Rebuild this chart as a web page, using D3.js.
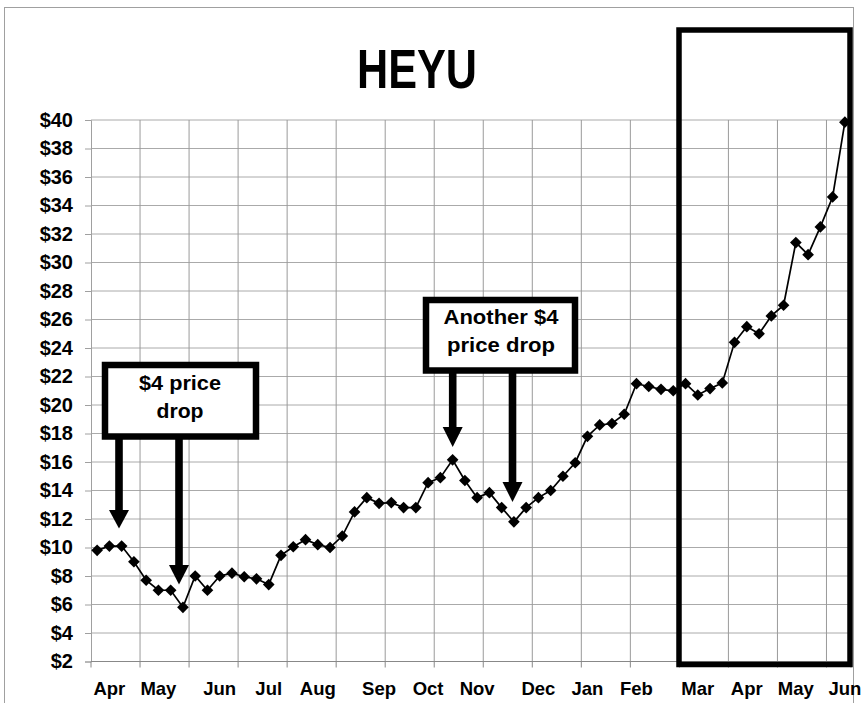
<!DOCTYPE html>
<html>
<head>
<meta charset="utf-8">
<script src="https://cdn.jsdelivr.net/npm/d3@7"></script>
<style>
  html, body { margin: 0; padding: 0; background: #fff; }
  svg { display: block; }
  text { font-family: "Liberation Sans", Arial, sans-serif; font-weight: bold; fill: #000; }
</style>
</head>
<body>
<svg id="chart" width="862" height="703"></svg>
<script>
// ---- data ----
const title = "HEYU";
const weekLabels = [
  "", "Apr", "", "", "", "May", "", "", "", "",
  "Jun", "", "", "", "Jul", "", "", "", "Aug", "",
  "", "", "", "Sep", "", "", "", "Oct", "", "",
  "", "Nov", "", "", "", "", "Dec", "", "", "",
  "Jan", "", "", "", "Feb", "", "", "", "", "Mar",
  "", "", "", "Apr", "", "", "", "May", "", "",
  "", "Jun"
];
const prices = [
  9.8, 10.1, 10.1, 9.0, 7.7, 7.0, 7.0, 5.8, 8.0, 7.0,
  8.0, 8.2, 7.95, 7.8, 7.4, 9.45, 10.05, 10.55, 10.2, 10.0,
  10.8, 12.5, 13.5, 13.1, 13.15, 12.8, 12.8, 14.55, 14.9, 16.15,
  14.7, 13.5, 13.85, 12.8, 11.8, 12.8, 13.5, 14.0, 15.0, 15.95,
  17.8, 18.6, 18.7, 19.35, 21.5, 21.3, 21.1, 21.0, 21.5, 20.7,
  21.15, 21.55, 24.4, 25.5, 25.0, 26.25, 27.0, 31.4, 30.55, 32.5,
  34.6, 39.85
];
const yTicks = [2, 4, 6, 8, 10, 12, 14, 16, 18, 20, 22, 24, 26, 28, 30, 32, 34, 36, 38, 40];
const note1Lines = ["$4 price", "drop"];
const note2Lines = ["Another $4", "price drop"];

// ---- layout ----
const svg = d3.select("#chart");
const plot = { left: 91, right: 851, top: 120, bottom: 661.5 };

const x = d3.scaleBand()
  .domain(d3.range(weekLabels.length))
  .range([plot.left, plot.right])
  .padding(0);
const y = d3.scaleLinear()
  .domain([d3.min(yTicks), d3.max(yTicks)])
  .range([plot.bottom, plot.top]);

// outer chart border
svg.append("rect")
  .attr("x", 4.5).attr("y", 7.5)
  .attr("width", 849).attr("height", 720)
  .attr("fill", "none").attr("stroke", "#a0a0a0").attr("stroke-width", 1);

// horizontal gridlines
svg.append("g")
  .selectAll("line")
  .data(yTicks.slice(1))
  .join("line")
  .attr("x1", plot.left).attr("x2", plot.right)
  .attr("y1", d => y(d)).attr("y2", d => y(d))
  .attr("stroke", "#aaaaaa").attr("stroke-width", 1);

// vertical gridlines every 4 weeks
const vIdx = d3.range(0, weekLabels.length + 1, 4).filter(i => i > 0);
const boundary = i => i >= weekLabels.length ? plot.right : x(i);
svg.append("g")
  .selectAll("line")
  .data(vIdx)
  .join("line")
  .attr("x1", d => boundary(d)).attr("x2", d => boundary(d))
  .attr("y1", plot.top).attr("y2", plot.bottom)
  .attr("stroke", "#9a9a9a").attr("stroke-width", 1);

// y axis
const yAxis = svg.append("g")
  .attr("transform", `translate(${plot.left},0)`)
  .call(d3.axisLeft(y).tickValues(yTicks).tickFormat(d => "$" + d).tickSize(6).tickPadding(12));
yAxis.select(".domain").attr("stroke", "#a0a0a0");
yAxis.selectAll(".tick line").attr("stroke", "#a0a0a0");
yAxis.selectAll(".tick text")
  .style("font-family", '"Liberation Sans", Arial, sans-serif')
  .style("font-weight", "bold")
  .style("font-size", "20px")
  .attr("fill", "#000");

// x axis line and ticks
svg.append("line")
  .attr("x1", plot.left).attr("x2", plot.right)
  .attr("y1", plot.bottom).attr("y2", plot.bottom)
  .attr("stroke", "#888").attr("stroke-width", 1);
svg.append("g")
  .selectAll("line")
  .data(d3.range(0, weekLabels.length + 1, 4).concat([weekLabels.length]))
  .join("line")
  .attr("x1", d => boundary(d)).attr("x2", d => boundary(d))
  .attr("y1", plot.bottom).attr("y2", plot.bottom + 6)
  .attr("stroke", "#888").attr("stroke-width", 1);

// x labels
svg.append("g")
  .selectAll("text")
  .data(weekLabels.map((l, i) => ({ l, i })).filter(d => d.l !== ""))
  .join("text")
  .attr("x", d => x(d.i) + x.bandwidth() / 2)
  .attr("y", 695)
  .attr("text-anchor", "middle")
  .style("font-size", "18.5px")
  .text(d => d.l);

// title
svg.append("text")
  .attr("x", 417).attr("y", 88)
  .attr("text-anchor", "middle")
  .attr("textLength", 120)
  .attr("lengthAdjust", "spacingAndGlyphs")
  .style("font-size", "55px")
  .text(title);

// highlight box
svg.append("rect")
  .attr("x", 679).attr("y", 30)
  .attr("width", 850 - 679).attr("height", 664.5 - 30)
  .attr("fill", "none").attr("stroke", "#000").attr("stroke-width", 5.5);

// line + markers
const line = d3.line()
  .x((d, i) => x(i) + x.bandwidth() / 2)
  .y(d => y(d));
svg.append("path")
  .datum(prices)
  .attr("d", line)
  .attr("fill", "none").attr("stroke", "#000").attr("stroke-width", 1.7);
svg.append("g")
  .selectAll("path")
  .data(prices)
  .join("path")
  .attr("d", d3.symbol().type(d3.symbolSquare).size(68))
  .attr("transform", (d, i) => `translate(${x(i) + x.bandwidth() / 2},${y(d)}) rotate(45)`)
  .attr("fill", "#000");

// annotations
function arrow(cx, y0, headTop, tip, halfW) {
  svg.append("rect")
    .attr("x", cx - 3.8).attr("y", y0)
    .attr("width", 7.6).attr("height", headTop - y0 + 1)
    .attr("fill", "#000");
  svg.append("path")
    .attr("d", `M${cx - halfW},${headTop} L${cx + halfW},${headTop} L${cx},${tip} Z`)
    .attr("fill", "#000");
}
function noteBox(x0, y0, x1, y1, lines, cx, baselines, lengths) {
  svg.append("rect")
    .attr("x", x0).attr("y", y0)
    .attr("width", x1 - x0).attr("height", y1 - y0)
    .attr("fill", "#fff").attr("stroke", "#000").attr("stroke-width", 6.5);
  lines.forEach((t, k) => {
    svg.append("text")
      .attr("x", cx).attr("y", baselines[k])
      .attr("text-anchor", "middle")
      .attr("textLength", lengths[k])
      .attr("lengthAdjust", "spacingAndGlyphs")
      .style("font-size", "19.5px")
      .text(t);
  });
}
arrow(119, 437, 510, 528.5, 10);
arrow(179, 437, 565, 584.5, 10);
noteBox(105, 365, 256, 436.5, note1Lines, 180, [389.5, 417.5], [82, 47]);

arrow(452.7, 370, 427, 447, 10);
arrow(512.5, 370, 482, 502, 10);
noteBox(426, 300, 575, 370.5, note2Lines, 501, [323.5, 351.5], [115, 108]);
</script>
</body>
</html>
